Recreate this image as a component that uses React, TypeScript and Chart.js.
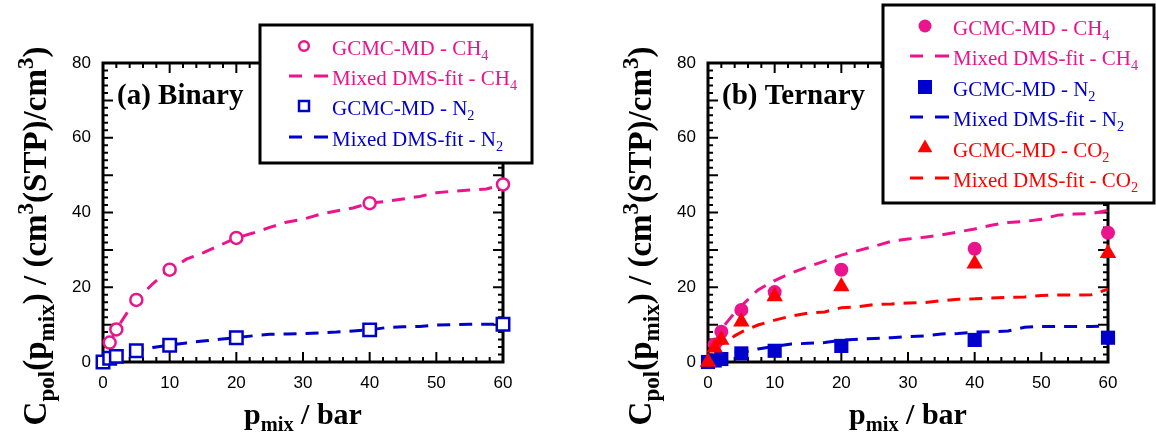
import React, { useEffect, useRef } from 'react';
import { Chart, registerables } from 'chart.js';

Chart.register(...registerables);

// ---------------- data ----------------
const binaryCH4P = [1, 2, 5, 10, 20, 40, 60];
const binaryCH4 = [5.2, 8.7, 16.6, 24.7, 33.2, 42.5, 47.5];
const binaryN2P = [0, 1, 2, 5, 10, 20, 40, 60];
const binaryN2 = [0, 1.0, 1.5, 3.0, 4.5, 6.5, 8.6, 10.1];

const ternaryP = [0, 1, 2, 5, 10, 20, 40, 60];
const ternaryCH4 = [0, 4.7, 8.1, 13.9, 18.7, 24.7, 30.3, 34.6];
const ternaryN2 = [0, 0.4, 0.8, 2.3, 3.0, 4.3, 5.9, 6.5];
const ternaryCO2 = [0, 3.8, 5.9, 10.8, 17.5, 20.2, 26.3, 29.1];

const fitP = [1, 2, 3, 4, 5, 7.5, 10, 12.5, 15, 17.5, 20, 22.5, 25, 27.5, 30, 32.5, 35, 37.5, 40, 42.5, 45, 47.5, 50, 52.5, 55, 57.5, 60];
const binaryFitCH4 = [5.2, 8.7, 11.5, 14.2, 16.6, 21.0, 24.7, 27.5, 29.2, 31.2, 33.2, 34.5, 36.0, 37.4, 38.2, 39.5, 40.4, 41.2, 42.5, 43.0, 43.6, 44.3, 45.3, 45.7, 46.0, 46.3, 47.5];
const binaryFitN2 = [1.0, 1.5, 2.0, 2.5, 3.0, 3.9, 4.5, 5.1, 5.6, 6.1, 6.5, 7.0, 7.4, 7.5, 7.6, 7.8, 8.0, 8.3, 8.6, 9.2, 9.4, 9.5, 9.9, 10.0, 10.1, 10.1, 10.1];
const ternaryFitCH4 = [4.8, 8.8, 11.0, 13.2, 15.0, 19.3, 21.8, 23.8, 25.5, 27.0, 28.6, 29.8, 31.0, 32.3, 32.9, 33.4, 34.0, 34.8, 35.6, 36.6, 37.3, 37.6, 38.2, 39.3, 39.6, 39.7, 40.6];
const ternaryFitN2 = [0.7, 1.3, 1.8, 2.2, 2.5, 3.5, 4.2, 4.8, 5.0, 5.2, 5.8, 6.1, 6.3, 6.5, 6.8, 7.0, 7.5, 7.6, 8.0, 8.1, 8.3, 9.3, 9.5, 9.5, 9.5, 9.5, 9.6];
const ternaryFitCO2 = [3.3, 4.8, 5.6, 7.0, 8.0, 9.9, 11.2, 12.3, 13.1, 13.4, 14.5, 14.8, 15.4, 15.5, 15.8, 15.9, 16.4, 16.8, 16.9, 17.1, 17.3, 17.4, 17.8, 17.9, 17.9, 18.0, 19.5];

const xMin = 0, xMax = 60, xStep = 10, xMinor = 2;
const yMin = 0, yMax = 80, yStep = 20, yMinor = 2;

// ---------------- style ----------------
const PINK = '#EB148C';
const BLUE = '#0000CC';
const RED = '#FF0000';
const SERIF = '"Liberation Serif", "Times New Roman", serif';
const SANS = '"Liberation Sans", Arial, sans-serif';

type Seg = [string, number]; // 0 normal, 1 sub, 2 sup

function drawRich(ctx: CanvasRenderingContext2D, segs: Seg[], x: number, y: number, size: number, weight: string, color: string, align: 'left' | 'center', subScale = 0.68) {
  const sizes = segs.map(([, k]) => (k === 0 ? size : size * subScale));
  const widths = segs.map(([t], i) => {
    ctx.font = `${weight} ${sizes[i]}px ${SERIF}`;
    return ctx.measureText(t).width;
  });
  const total = widths.reduce((a, b) => a + b, 0);
  let cx = align === 'center' ? x - total / 2 : x;
  ctx.fillStyle = color;
  ctx.textAlign = 'left';
  ctx.textBaseline = 'alphabetic';
  segs.forEach(([t, k], i) => {
    ctx.font = `${weight} ${sizes[i]}px ${SERIF}`;
    const dy = k === 1 ? size * 0.24 : k === 2 ? -size * 0.38 : 0;
    ctx.fillText(t, cx, y + dy);
    cx += widths[i];
  });
}

type Marker = 'circle' | 'circleFill' | 'square' | 'squareFill' | 'triangle' | 'dash';
interface LegendRow { marker: Marker; color: string; segs: Seg[] }
interface Panel {
  width: number;
  label: string;
  legendBox: [number, number, number, number];
  legendRowY: number[];
  legendMarkerX: number;
  rows: LegendRow[];
  datasets: any[];
}

const plotLeft = 103, plotRight = 503, plotTop = 63, plotBottom = 362;

function drawMarker(ctx: CanvasRenderingContext2D, m: Marker, color: string, x: number, y: number) {
  ctx.save();
  ctx.strokeStyle = color;
  ctx.fillStyle = color;
  ctx.lineWidth = 2.5;
  if (m === 'circle') {
    ctx.beginPath(); ctx.arc(x, y, 4.8, 0, Math.PI * 2); ctx.fillStyle = '#fff'; ctx.fill(); ctx.stroke();
  } else if (m === 'circleFill') {
    ctx.beginPath(); ctx.arc(x, y, 6.5, 0, Math.PI * 2); ctx.fill();
  } else if (m === 'square') {
    ctx.fillStyle = '#fff'; ctx.fillRect(x - 5, y - 5, 10, 10); ctx.strokeRect(x - 5, y - 5, 10, 10);
  } else if (m === 'squareFill') {
    ctx.fillRect(x - 7, y - 7, 14, 14);
  } else if (m === 'triangle') {
    const r = 8.5;
    ctx.beginPath();
    ctx.moveTo(x, y - r);
    ctx.lineTo(x + r * 0.866, y + r / 2);
    ctx.lineTo(x - r * 0.866, y + r / 2);
    ctx.closePath(); ctx.fill();
  } else if (m === 'dash') {
    ctx.lineWidth = 3;
    ctx.beginPath();
    ctx.moveTo(x - 15, y); ctx.lineTo(x - 2, y);
    ctx.moveTo(x + 10, y); ctx.lineTo(x + 24, y);
    ctx.stroke();
  }
  ctx.restore();
}

function makePlugin(panel: Panel) {
  return {
    id: 'decor',
    beforeDatasetsDraw(chart: any) {
      const { ctx, chartArea: a, scales } = chart;
      const xs = scales.x, ys = scales.y;
      ctx.save();
      ctx.strokeStyle = '#000';
      ctx.lineWidth = 2;
      ctx.beginPath();
      for (let v = xMin; v <= xMax; v += xMinor) {
        const px = xs.getPixelForValue(v);
        const len = v % xStep === 0 ? 10 : 5;
        ctx.moveTo(px, a.bottom); ctx.lineTo(px, a.bottom - len);
        ctx.moveTo(px, a.top); ctx.lineTo(px, a.top + len);
      }
      for (let v = yMin; v <= yMax; v += yMinor) {
        const py = ys.getPixelForValue(v);
        const len = v % 10 === 0 ? 10 : 5;
        ctx.moveTo(a.left, py); ctx.lineTo(a.left + len, py);
        ctx.moveTo(a.right, py); ctx.lineTo(a.right - len, py);
      }
      ctx.stroke();
      ctx.lineWidth = 3;
      ctx.strokeRect(a.left, a.top, a.right - a.left, a.bottom - a.top);
      ctx.restore();
    },
    afterDraw(chart: any) {
      const { ctx, chartArea: a } = chart;
      ctx.save();
      // panel label
      ctx.font = `bold 29px ${SERIF}`;
      ctx.fillStyle = '#000';
      ctx.textAlign = 'left';
      ctx.textBaseline = 'alphabetic';
      ctx.fillText(panel.label, 117, 104);
      // axis titles
      drawRich(ctx, [['p', 0], ['mix', 1], [' / bar', 0]], (a.left + a.right) / 2, 424, 30, 'bold', '#000', 'center');
      ctx.save();
      ctx.translate(46, 236);
      ctx.rotate(-Math.PI / 2);
      drawRich(ctx, [['C', 0], ['pol', 1], ['(p', 0], ['mix', 1], [') / (cm', 0], ['3', 2], ['(STP)/cm', 0], ['3', 2], [')', 0]], 0, 0, 33, 'bold', '#000', 'center', 0.7);
      ctx.restore();
      // legend
      const [bx0, by0, bx1, by1] = panel.legendBox;
      ctx.fillStyle = '#fff';
      ctx.fillRect(bx0, by0, bx1 - bx0, by1 - by0);
      ctx.strokeStyle = '#000';
      ctx.lineWidth = 3;
      ctx.strokeRect(bx0, by0, bx1 - bx0, by1 - by0);
      panel.rows.forEach((row, i) => {
        const base = panel.legendRowY[i];
        drawMarker(ctx, row.marker, row.color, panel.legendMarkerX, base - 9);
        drawRich(ctx, row.segs, panel.legendMarkerX + 28, base, 21, 'normal', row.color, 'left');
      });
      ctx.restore();
    },
  };
}

const pts = (xs: number[], ys: number[]) => xs.map((x, i) => ({ x, y: ys[i] }));

const fitDs = (data: number[], color: string) => ({
  data: pts(fitP, data), showLine: true, borderColor: color, borderWidth: 3, borderDash: [13, 9],
  pointRadius: 0, fill: false, tension: 0, clip: false, order: 10,
});

const binaryPanel: Panel = {
  width: 578,
  label: '(a) Binary',
  legendBox: [260, 25, 532, 163],
  legendRowY: [55, 85, 115, 146],
  legendMarkerX: 304,
  rows: [
    { marker: 'circle', color: PINK, segs: [['GCMC-MD - CH', 0], ['4', 1]] },
    { marker: 'dash', color: PINK, segs: [['Mixed DMS-fit - CH', 0], ['4', 1]] },
    { marker: 'square', color: BLUE, segs: [['GCMC-MD - N', 0], ['2', 1]] },
    { marker: 'dash', color: BLUE, segs: [['Mixed DMS-fit - N', 0], ['2', 1]] },
  ],
  datasets: [
    fitDs(binaryFitCH4, PINK),
    fitDs(binaryFitN2, BLUE),
    { data: pts(binaryCH4P, binaryCH4), showLine: false, pointStyle: 'circle', pointRadius: 6, pointBorderWidth: 2.5, borderColor: PINK, backgroundColor: '#fff', pointBackgroundColor: '#fff', pointBorderColor: PINK, clip: false, order: 2 },
    { data: pts(binaryN2P, binaryN2), showLine: false, pointStyle: 'rect', pointRadius: 8.8, pointBorderWidth: 2.5, borderColor: BLUE, backgroundColor: '#fff', pointBackgroundColor: '#fff', pointBorderColor: BLUE, clip: false, order: 1 },
  ],
};

const ternaryPanel: Panel = {
  width: 551,
  label: '(b) Ternary',
  legendBox: [278, 5, 549, 203],
  legendRowY: [35, 65, 96, 126, 157, 187],
  legendMarkerX: 320,
  rows: [
    { marker: 'circleFill', color: PINK, segs: [['GCMC-MD - CH', 0], ['4', 1]] },
    { marker: 'dash', color: PINK, segs: [['Mixed DMS-fit - CH', 0], ['4', 1]] },
    { marker: 'squareFill', color: BLUE, segs: [['GCMC-MD - N', 0], ['2', 1]] },
    { marker: 'dash', color: BLUE, segs: [['Mixed DMS-fit - N', 0], ['2', 1]] },
    { marker: 'triangle', color: RED, segs: [['GCMC-MD - CO', 0], ['2', 1]] },
    { marker: 'dash', color: RED, segs: [['Mixed DMS-fit - CO', 0], ['2', 1]] },
  ],
  datasets: [
    fitDs(ternaryFitCH4, PINK),
    fitDs(ternaryFitN2, BLUE),
    fitDs(ternaryFitCO2, RED),
    { data: pts(ternaryP, ternaryCH4), showLine: false, pointStyle: 'circle', pointRadius: 7, pointBorderWidth: 0, backgroundColor: PINK, borderColor: PINK, pointBackgroundColor: PINK, clip: false, order: 3 },
    { data: pts(ternaryP, ternaryN2), showLine: false, pointStyle: 'rect', pointRadius: 10, pointBorderWidth: 0, backgroundColor: BLUE, borderColor: BLUE, pointBackgroundColor: BLUE, clip: false, order: 2 },
    { data: pts(ternaryP, ternaryCO2), showLine: false, pointStyle: 'triangle', pointRadius: 9.5, pointBorderWidth: 0, backgroundColor: RED, borderColor: RED, pointBackgroundColor: RED, clip: false, order: 1 },
  ],
};

function PanelChart({ panel, left }: { panel: Panel; left: number }) {
  const ref = useRef<HTMLCanvasElement>(null);
  useEffect(() => {
    if (!ref.current) return;
    const chart = new Chart(ref.current, {
      type: 'scatter',
      data: { datasets: panel.datasets },
      options: {
        responsive: false,
        animation: false,
        events: [],
        layout: { padding: { left: 0, top: plotTop, right: panel.width - plotRight, bottom: 0 } },
        plugins: { legend: { display: false }, tooltip: { enabled: false } },
        scales: {
          x: {
            type: 'linear', min: xMin, max: xMax,
            afterFit: (s: any) => { s.height = 436 - plotBottom; },
            grid: { display: false, drawTicks: false },
            border: { display: false },
            ticks: { stepSize: xStep, padding: 11, color: '#000', maxRotation: 0, font: { family: SANS, size: 17 } },
          },
          y: {
            type: 'linear', min: yMin, max: yMax,
            afterFit: (s: any) => { s.width = plotLeft; },
            grid: { display: false, drawTicks: false },
            border: { display: false },
            ticks: { stepSize: yStep, padding: 12, color: '#000', font: { family: SANS, size: 17 } },
          },
        },
      } as any,
      plugins: [makePlugin(panel)],
    });
    return () => chart.destroy();
  }, [panel]);
  return (
    <canvas ref={ref} width={panel.width} height={436}
      style={{ position: 'absolute', left, top: 0, width: panel.width, height: 436 }} />
  );
}

export default function App() {
  return (
    <div style={{ position: 'absolute', left: 0, top: 0, width: 1156, height: 436, background: '#fff' }}>
      <PanelChart panel={binaryPanel} left={0} />
      <PanelChart panel={ternaryPanel} left={605} />
    </div>
  );
}
